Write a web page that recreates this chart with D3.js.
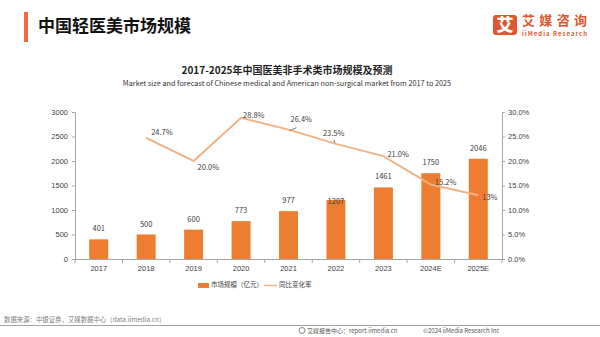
<!DOCTYPE html>
<html>
<head>
<meta charset="utf-8">
<script src="https://cdn.jsdelivr.net/npm/d3@7"></script>
<style>
    body { margin: 0; background: #fff; }
    svg { display: block; font-family: "Noto Sans CJK SC", "Noto Sans", sans-serif; }
</style>
</head>
<body>
<svg id="chart" width="600" height="337"></svg>
<script>
const years = ["2017", "2018", "2019", "2020", "2021", "2022", "2023", "2024E", "2025E"];
const marketSize = [401, 500, 600, 773, 977, 1207, 1461, 1750, 2046];
const growthYears = ["2018", "2019", "2020", "2021", "2022", "2023", "2024E", "2025E"];
const growth = [24.7, 20.0, 28.8, 26.4, 23.5, 21.0, 15.2, 13];
const growthLabels = ["24.7%", "20.0%", "28.8%", "26.4%", "23.5%", "21.0%", "15.2%", "13%"];
const leftTicks = [0, 500, 1000, 1500, 2000, 2500, 3000];
const rightTicks = [0, 5, 10, 15, 20, 25, 30];

const svg = d3.select("#chart");
const orange = "#ed7d31";
const lineColor = "#f4b183";
const textColor = "#404040";

const margin = { "T": 112, "B": 78, "L": 75, "R": 98 };
const width = 600, height = 337;

// ---- HEADER ---- //
svg.append("rect").attr("x", 24).attr("y", 12).attr("width", 4).attr("height", 30).attr("fill", "#f26b3a");
svg.append("text").attr("x", 38).attr("y", 32)
    .attr("font-size", 17).attr("font-weight", 700).attr("fill", "#111")
    .text("中国轻医美市场规模");

// logo
svg.append("rect").attr("x", 493).attr("y", 15).attr("width", 24).attr("height", 20).attr("rx", 3).attr("fill", "#e0572f");
svg.append("text").attr("x", 505).attr("y", 31).attr("text-anchor", "middle")
    .attr("font-size", 17).attr("font-weight", 900).attr("fill", "#fff").text("艾");
svg.append("text").attr("x", 522).attr("y", 24.5)
    .attr("font-size", 13).attr("font-weight", 700).attr("fill", "#e0572f")
    .attr("textLength", 65).text("艾媒咨询");
svg.append("text").attr("x", 522).attr("y", 36)
    .attr("font-size", 6).attr("font-weight", 700).attr("fill", "#e0572f")
    .attr("textLength", 65).text("iiMedia Research");

// chart titles
svg.append("text").attr("x", 287).attr("y", 74).attr("text-anchor", "middle")
    .attr("font-size", 10).attr("font-weight", 700).attr("fill", "#222")
    .text("2017-2025年中国医美非手术类市场规模及预测");
svg.append("text").attr("x", 287).attr("y", 86).attr("text-anchor", "middle")
    .attr("font-size", 7.3).attr("fill", "#333")
    .text("Market size and forecast of Chinese medical and American non-surgical market from 2017 to 2025");

// ---- SCALES ---- //
const xScale = d3.scaleBand().domain(years).range([margin.L, width - margin.R]);
const yScale = d3.scaleLinear().domain([0, 3000]).range([height - margin.B, margin.T]);
const y2Scale = d3.scaleLinear().domain([0, 30]).range([height - margin.B, margin.T]);

// ---- AXES ---- //
const axisColor = "#a6a6a6";
const xAxis = svg.append("g")
    .attr("transform", `translate(0, ${height - margin.B})`)
    .call(d3.axisBottom(xScale).tickSize(0).tickPadding(7));
xAxis.selectAll("text").attr("font-size", 7.5).attr("fill", textColor);
xAxis.select(".domain").attr("stroke", axisColor);
// tick marks between categories
xAxis.selectAll(".sep")
    .data(years.map((d, i) => i).concat([years.length]))
    .enter().append("line")
    .attr("x1", i => margin.L + i * xScale.step())
    .attr("x2", i => margin.L + i * xScale.step())
    .attr("y1", 0).attr("y2", 4)
    .attr("stroke", axisColor);

const yAxis = svg.append("g")
    .attr("transform", `translate(${margin.L}, 0)`)
    .call(d3.axisLeft(yScale).tickValues(leftTicks).tickSize(3).tickPadding(4)
        .tickFormat(d => d));
yAxis.selectAll("text").attr("font-size", 7.5).attr("fill", textColor);
yAxis.selectAll("line, .domain").attr("stroke", axisColor);

const y2Axis = svg.append("g")
    .attr("transform", `translate(${width - margin.R}, 0)`)
    .call(d3.axisRight(y2Scale).tickValues(rightTicks).tickSize(3).tickPadding(3)
        .tickFormat(d => d.toFixed(1) + "%"));
y2Axis.selectAll("text").attr("font-size", 7.5).attr("fill", textColor);
y2Axis.selectAll("line, .domain").attr("stroke", axisColor);

// ---- BARS ---- //
const barW = xScale.bandwidth() * 0.4;
svg.selectAll(".bar")
    .data(years)
    .enter().append("rect")
    .attr("class", "bar")
    .attr("x", d => xScale(d) + (xScale.bandwidth() - barW) / 2)
    .attr("y", (d, i) => yScale(marketSize[i]))
    .attr("width", barW)
    .attr("height", (d, i) => yScale(0) - yScale(marketSize[i]))
    .attr("fill", orange);

svg.selectAll(".bar-label")
    .data(years)
    .enter().append("text")
    .attr("x", d => xScale(d) + xScale.bandwidth() / 2)
    .attr("y", (d, i) => yScale(marketSize[i]) + (d === "2022" ? 4 : -8))
    .attr("text-anchor", "middle")
    .attr("font-size", 7.5)
    .attr("fill", textColor)
    .text((d, i) => marketSize[i]);

// ---- LINE ---- //
const line = d3.line()
    .x((d, i) => xScale(growthYears[i]) + xScale.bandwidth() / 2)
    .y(d => y2Scale(d));

svg.append("path")
    .attr("d", line(growth))
    .attr("fill", "none")
    .attr("stroke", lineColor)
    .attr("stroke-width", 2);

const labelOffsets = [[5, -6], [4, 6], [2, -3], [2, -10], [-13, -10], [4, -2], [4, -2], [4, 2]];
svg.selectAll(".line-label")
    .data(growth)
    .enter().append("text")
    .attr("x", (d, i) => xScale(growthYears[i]) + xScale.bandwidth() / 2 + labelOffsets[i][0])
    .attr("y", (d, i) => y2Scale(d) + labelOffsets[i][1])
    .attr("dy", "0.35em")
    .attr("font-size", 7.5)
    .attr("fill", textColor)
    .text((d, i) => growthLabels[i]);

// leader lines for 26.4% and 23.5%
[3, 4].forEach(i => {
    const cx = xScale(growthYears[i]) + xScale.bandwidth() / 2;
    const cy = y2Scale(growth[i]);
    if (i === 3) {
        svg.append("line").attr("x1", cx + 1).attr("y1", cy + 1).attr("x2", cx + 8).attr("y2", cy - 2)
            .attr("stroke", "#333").attr("stroke-width", 0.6);
    } else {
        svg.append("line").attr("x1", cx - 2).attr("y1", cy - 4).attr("x2", cx - 1).attr("y2", cy - 1)
            .attr("stroke", "#333").attr("stroke-width", 0.6);
    }
});

// ---- LEGEND ---- //
const legend = svg.append("g").attr("transform", "translate(198, 285)");
legend.append("rect").attr("x", 0).attr("y", -2).attr("width", 11).attr("height", 5).attr("fill", orange);
legend.append("text").attr("x", 13).attr("y", 0).attr("dy", "0.35em")
    .attr("font-size", 6.5).attr("fill", textColor).text("市场规模（亿元）");
legend.append("line").attr("x1", 66).attr("x2", 79).attr("y1", 0.5).attr("y2", 0.5)
    .attr("stroke", lineColor).attr("stroke-width", 1.5);
legend.append("text").attr("x", 81).attr("y", 0).attr("dy", "0.35em")
    .attr("font-size", 6.5).attr("fill", textColor).text("同比变化率");

// ---- FOOTER ---- //
svg.append("text").attr("x", 4).attr("y", 322)
    .attr("font-size", 6.4).attr("fill", "#7f7f7f")
    .text("数据来源：中银证券，艾媒数据中心（data.iimedia.cn）");
svg.append("line").attr("x1", 0).attr("x2", 600).attr("y1", 325.5).attr("y2", 325.5)
    .attr("stroke", "#8c8c8c").attr("stroke-width", 0.8);
svg.append("circle").attr("cx", 302).attr("cy", 330.5).attr("r", 3)
    .attr("fill", "none").attr("stroke", "#666").attr("stroke-width", 0.8);
svg.append("text").attr("x", 307).attr("y", 333)
    .attr("font-size", 6).attr("fill", "#555")
    .text("艾媒报告中心：report.iimedia.cn");
svg.append("text").attr("x", 423).attr("y", 333)
    .attr("font-size", 6).attr("fill", "#555")
    .text("©2024  iiMedia Research  Inc");
</script>
</body>
</html>
